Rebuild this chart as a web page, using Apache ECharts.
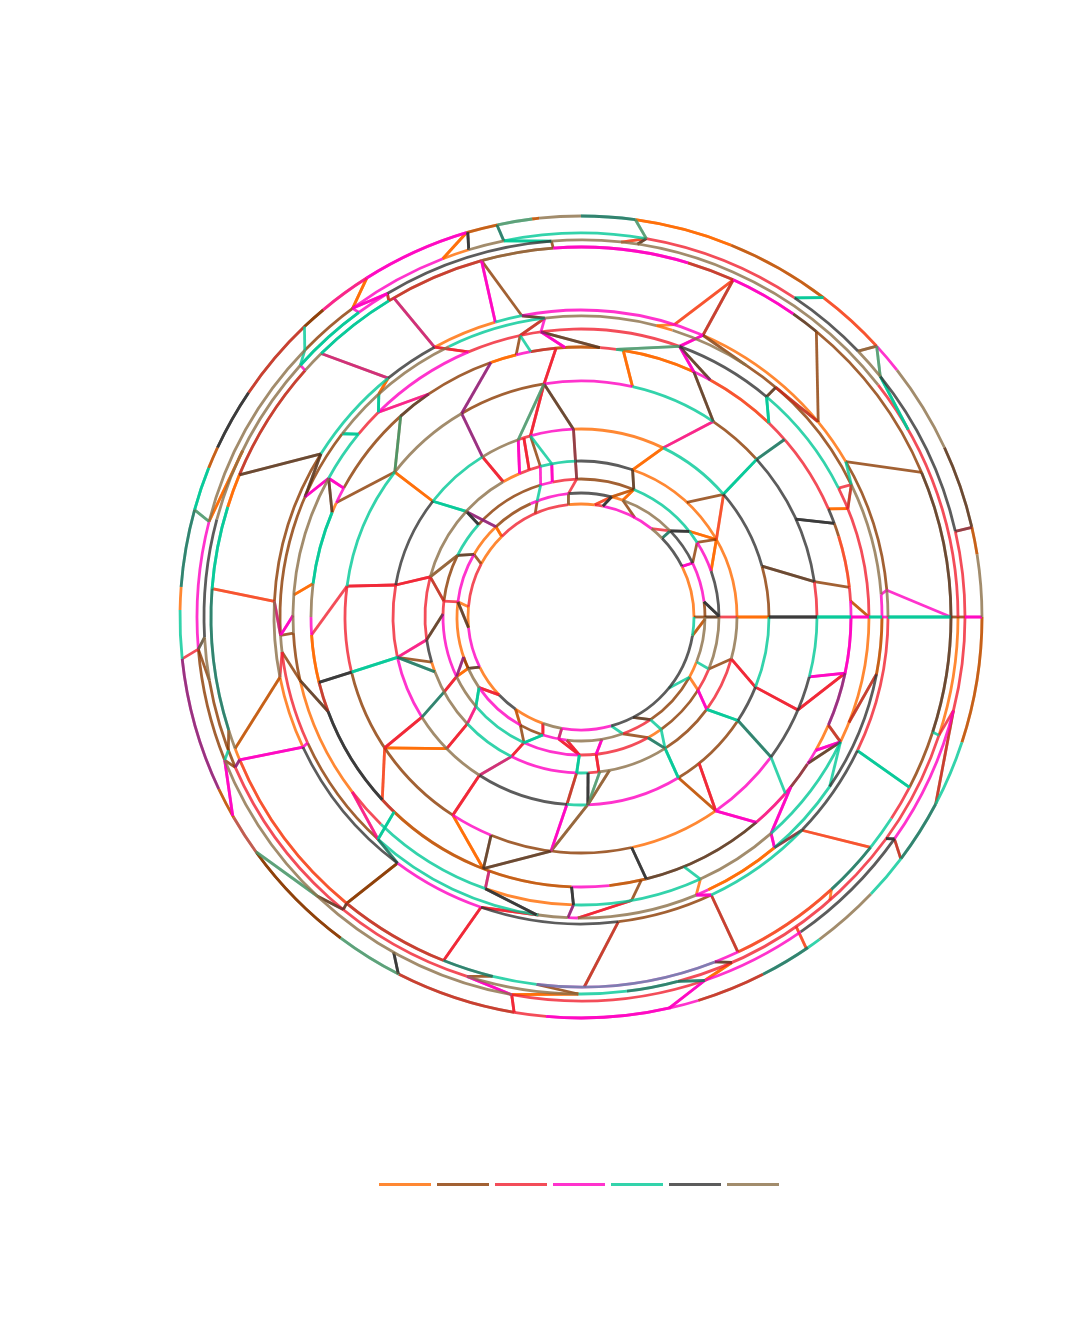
<!DOCTYPE html>
<html><head><meta charset="utf-8">
<script src="https://cdn.jsdelivr.net/npm/echarts@6/dist/echarts.min.js"></script>
<style>html,body{margin:0;background:#fff}#c{width:1090px;height:1344px}</style></head>
<body><div id="c"></div><script>
const seriesNames=['Series 1','Series 2','Series 3','Series 4','Series 5','Series 6','Series 7'];
const seriesCodes=['O','B','R','M','T','D','N'];
const seriesColors=['#ff6a00','#8b3a00','#f02030','#ff00c0','#00c896','#333333','#8b6f47'];
const ringValues=[113,124,138,156,188,236,270,288,301,307,370,377,384,401];
const ringRuns=[
[[0,'O'],[26.6,'D'],[44.2,'N'],[51.4,'M'],[78.8,'R'],[83,'O'],[96.4,'R'],[134.5,'O'],[152,'R'],[174.8,'O'],[185.5,'M'],[206.3,'O'],[223.6,'D'],[234.6,'O'],[250.3,'N'],[260.2,'M'],[285.5,'D'],[350.5,'T']],
[[0,'B'],[7.1,'M'],[25.8,'D'],[44,'N'],[70.3,'O'],[75.7,'D'],[95.8,'M'],[113.9,'B'],[133.3,'O'],[149.7,'M'],[173,'O'],[204.5,'N'],[214.7,'M'],[240.7,'B'],[252.1,'M'],[263.4,'N'],[289.7,'R'],[304.1,'B'],[331,'O'],[338.8,'N']],
[[0,'D'],[19.5,'M'],[32.7,'T'],[67.5,'B'],[91.8,'R'],[102,'M'],[107,'B'],[137.9,'T'],[153.5,'B'],[173.4,'R'],[178.8,'M'],[205.6,'N'],[220.4,'T'],[245.6,'M'],[269.3,'R'],[299,'O'],[305.5,'B'],[328,'R'],[337.9,'N']],
[[0,'O'],[70.7,'D'],[91.8,'T'],[105.1,'R'],[113.2,'O'],[119.9,'N'],[165.1,'R'],[188.4,'D'],[196.9,'O'],[200.6,'N'],[223.2,'T'],[243.5,'M'],[268.4,'T'],[272.6,'R'],[276.6,'N'],[302.6,'B'],[323.7,'R'],[344.4,'N']],
[[0,'B'],[15.7,'D'],[40.8,'T'],[64.1,'O'],[92.3,'M'],[105.6,'R'],[109.5,'N'],[121.6,'T'],[142,'D'],[170.2,'R'],[192.4,'M'],[212.2,'N'],[237.3,'D'],[265.7,'T'],[272,'M'],[301.2,'B'],[326.6,'D'],[338.1,'T']],
[[0,'R'],[8.6,'D'],[41.9,'B'],[55.9,'T'],[77.4,'M'],[99,'B'],[120.4,'N'],[142.1,'T'],[172.5,'R'],[193.5,'B'],[237.1,'M'],[247.6,'B'],[282.4,'O'],[304.8,'M'],[323.6,'D'],[345.3,'T']],
[[0,'M'],[3.4,'R'],[6.3,'OR'],[17.4,'B'],[20.3,'D'],[23.6,'R'],[45.9,'OR'],[61.4,'M'],[65.3,'OO'],[81,'T'],[82.5,'R'],[85.9,'BO'],[95.3,'BR'],[100.7,'M'],[103.9,'OO'],[109.5,'B'],[124.3,'DB'],[132,'B'],[151.5,'M'],[155,'O'],[157.2,'TT'],[172.9,'N'],[180,'M'],[183.8,'OO'],[194,'BR'],[200.5,'DD'],[222.6,'BR'],[226.2,'OB'],[268,'M'],[276,'BO'],[284,'BD'],[310.5,'MR'],[321,'RD'],[327,'M'],[330.4,'O'],[336.4,'MD'],[348,'MM']],
[[0,'R'],[26.6,'T'],[49.9,'D'],[70,'R'],[113,'M'],[134.7,'R'],[140.6,'T'],[151.2,'N'],[183.2,'B'],[192.7,'O'],[217.4,'R'],[226,'T'],[250.6,'O'],[268.5,'T'],[294.5,'N'],[311.3,'T'],[334.3,'O']],
[[0,'M'],[4.3,'N'],[26,'B'],[56.7,'N'],[72.3,'O'],[75.5,'N'],[96.9,'T'],[116,'N'],[142.5,'B'],[183.5,'N'],[186.7,'R'],[204.7,'B'],[227.6,'T'],[261.9,'N'],[267.5,'M'],[269.4,'N'],[292.5,'M'],[295,'OO'],[310,'T'],[325.7,'D'],[349,'OB']],
[[0,'N'],[5,'B'],[30.4,'O'],[66.6,'M'],[101.1,'T'],[106.2,'O'],[118.5,'D'],[128.9,'T'],[147.9,'B'],[177.1,'N'],[191.3,'O'],[205.1,'D'],[233.3,'M'],[251,'D'],[277,'B'],[295.1,'T'],[316,'D'],[334.2,'R']],
[[0,'BD'],[23,'B'],[50.5,'BD'],[55,'MM'],[65.7,'BR'],[73.2,'MM'],[94.3,'BN'],[105.6,'BR'],[121.3,'TT'],[134.6,'N'],[138.2,'BR'],[157.4,'OO'],[162.7,'TT'],[175.6,'DT'],[197.8,'N'],[200.8,'O'],[202.7,'OR'],[230.7,'BR'],[248.2,'TD'],[256.2,'T'],[263.1,'MT'],[291.2,'M'],[295.1,'OR'],[312.6,'TD'],[321.5,'T'],[327,'R'],[332.6,'B'],[341.9,'BD']],
[[0,'R'],[38,'N'],[94.5,'D'],[120.9,'M'],[126.1,'TT'],[138.1,'N'],[165,'D'],[183.1,'N'],[189.7,'B'],[203.5,'R'],[252.4,'N'],[269.6,'T'],[277,'TD'],[284.9,'R'],[341.7,'O']],
[[0,'R'],[12.9,'D'],[38.8,'N'],[43.8,'D'],[56.2,'R'],[80.2,'T'],[101.6,'N'],[107,'O'],[111.1,'M'],[126,'B'],[136,'N'],[165.6,'M'],[184.8,'B'],[201.9,'N'],[259.6,'R'],[288.8,'M'],[304.9,'D'],[324.7,'M'],[345.9,'R']],
[[0,'N'],[9,'BO'],[13,'DB'],[25,'N'],[38,'M'],[42.5,'OR'],[52.8,'BO'],[68,'OO'],[82.2,'TD'],[90,'N'],[96,'BO'],[97,'TN'],[102,'BO'],[106.6,'MM'],[122.3,'MR'],[130,'BB'],[133.6,'BR'],[146,'DD'],[155,'BO'],[158.2,'TT'],[164.5,'TD'],[175.7,'O'],[179,'T'],[186,'MD'],[205.4,'BO'],[210,'NR'],[216,'BB'],[233.2,'NT'],[243,'BR'],[260.4,'R'],[265,'MM'],[283,'M'],[287,'BR'],[297,'DT'],[304.5,'T'],[306.5,'N'],[316.3,'T'],[323,'DT'],[332.2,'T'],[341.8,'OB']]
];
const ringLinks=[
['B',0,0,1,0],['BD',1,0,2,0],['R',2,0,3,0],['OO',3,0,4,0],['DD',4,0,5,0],['TT',5,0,6,0],['MM',6,0,7,0],['TT',7,0,8,0],['M',8,0,9,0],['TT',9,0,10,0],['B',10,0,11,0],['B',11,0,12,0],['MM',12,0,13,0],
['M',10,0,9,5],['M',9,5,8,4.3],['BO',6,3.4,7,0],['DB',4,15.7,5,8.6],['B',5,8.6,6,6.3],['DD',5,24.5,6,20.3],['OO',6,23.6,7,22.1],['BR',7,22.1,8,26.1],['R',7,26.6,8,26.1],['T',9,30.4,8,26.1],['B',9,30.4,10,23],
['DB',7,49.9,8,49.7],['RB',8,49.7,9,39.6],['B',10,50.5,9,39.4],['TT',7,49.9,6,45.9],['TT',4,40.8,5,41.9],['TD',5,41.9,6,41.1],['B',3,47.3,4,40.7],['OR',4,40.7,3,29.8],['OO',3,29.8,2,19.5],['OO',3,70.7,4,64.1],['MR',4,64.1,5,55.9],
['DB',3,70.7,2,67.5],['OO',2,67.5,1,70.3],['BO',2,67.5,1,75.7],['OR',1,75.7,0,83],['DD',1,75.7,0,78.8],['B',1,70.3,0,61.6],['R',0,51.4,1,44],['DD',1,44,2,38.4],['OO',2,38.4,3,29.8],['TD',1,44,0,44.2],['B',2,32.7,3,29.8],['B',2,32.7,1,25.8],['MM',1,25.8,0,26.6],['DD',1,7.1,2,0.4],
['OR',11,83.9,12,80.2],['TN',12,80.2,13,82.2],['DB',11,81.4,12,80.2],['TT',12,56.2,13,52.8],['BN',12,43.8,13,42.5],['NT',13,42.5,12,38.8],['TT',12,38.8,11,29.8],['DR',12,12.9,13,12.9],
['OR',10,65.7,9,72.3],['O',9,72.3,8,75.5],['BR',10,65.7,9,66.6],['MM',9,66.6,7,70],['DO',9,66.6,8,56.7],['MM',7,70,6,65.3],['DB',6,65.3,5,55.9],['BD',7,70,6,61.4],['NT',6,82.5,7,70],['OO',6,81,5,77.4],['DB',7,98,6,86],
['TD',12,101.6,13,102.1],['DD',13,106.4,12,107],['OO',13,106.6,12,111.1],['B',11,94.5,10,94.3],['TT',12,101.6,11,94.5],['B',10,105.6,9,101.1],['DB',9,101.1,8,96.9],['MM',10,105.6,9,106.2],['M',8,96.9,7,98],['BR',8,96.9,7,102.2],['MM',7,98,6,93.4],['B',7,102.2,6,103.9],['T',7,102.2,6,100.7],
['RR',6,95.3,5,99],['BD',5,99,4,92.3],['TN',5,99,4,109.5],['RR',5,99,4,105.6],['RD',4,92.3,2,91.8],['R',2,91.8,1,95.8],['BN',1,95.8,0,96.4],['MM',4,109.5,3,113.2],['RR',4,107.7,3,109.4],['B',4,105.6,3,105.1],['M',3,105.1,2,107],['T',2,107,1,110.7],['B',1,110.7,0,113.9],['T',4,105.6,3,100.8],['MM',3,100.8,2,102],
['RR',3,119.9,4,121.6],['MD',4,121.6,5,120.4],['MD',5,120.4,6,109.5],['MR',6,124.3,7,134.7],['TT',7,134.7,8,132.2],['OO',8,132.2,9,128.9],['MB',9,128.9,10,134.6],['TB',6,131.9,5,142.1],['B',5,142.1,6,154.9],['OO',5,142.1,4,142],['TT',4,142,3,137.4],['DD',3,137.4,2,137.9],['DM',3,137.4,1,133.3],['OO',1,133.3,0,134.5],
['DB',2,153.5,1,149.7],['B',1,149.7,0,152],['BN',2,153.5,3,165.1],['BR',3,165.1,2,173.4],['R',2,173.4,1,173],['O',1,173,0,174.8],['BD',1,173,0,185.5],['RR',3,165.1,4,170.2],['RR',4,170.2,5,172.5],['R',5,172.5,6,183.8],
['OR',10,175.6,9,177.1],['OO',7,175.6,6,172.9],['MB',9,177.1,8,183.5],['MM',8,183.5,7,179.7],['B',8,183.5,7,183.2],['BD',10,157.4,9,147.9],['BD',9,147.9,8,156.5],['MM',8,156.5,7,151.2],['MM',7,151.2,6,151.5],['BD',7,151.2,6,157.2],['TT',8,142.5,7,140.6],
['BM',9,118.5,10,120.4],['RR',9,118.5,7,113],['RB',10,121.3,11,120.9],['MM',12,126.5,11,120.9],['M',11,126.1,12,126.5],['OO',12,126.5,13,122.3],['T',13,133.6,12,136],['T',12,136,11,138.1],['M',11,138.1,10,138.2],['NT',12,165.6,13,164.5],['OO',11,153.8,12,165.6],
['R',13,186,12,184.8],['ND',12,184.8,11,183.1],['B',12,184.8,11,189.7],['MM',13,209.7,12,201.9],['T',12,201.9,11,200.7],['B',11,200.7,10,197.8],['B',12,201.9,11,203.5],['MD',11,203.5,10,202.7],['MM',10,202.7,9,205.1],['M',9,205.1,8,204.7],['OB',10,200.8,9,191.3],['R',9,191.3,8,186.7],['B',8,186.7,7,192.7],['BD',7,192.7,6,200.5],['DD',6,194,5,193.5],['TT',5,193.5,4,192.4],['MR',4,192.4,3,188.4],['DB',3,188.4,2,178.8],['B',4,192.4,3,196.8],['TD',4,192.4,3,200.6],
['RR',5,213.7,4,212.2],['DT',4,212.2,3,208.7],['RR',3,208.7,2,205.6],['OO',2,205.6,1,204.5],['MD',2,205.6,1,198.8],['B',1,198.8,1,204.5],['DB',1,204.5,0,206.3],['OO',5,213.7,4,224.4],['RR',4,224.4,3,223.2],['MR',3,223.2,2,220.4],['TT',2,220.4,1,214.7],['RR',1,214.7,0,223.6],
['OR',5,213.7,6,222.6],['TT',6,226.2,8,227.6],['MR',7,217.4,8,227.6],['TD',8,227.6,9,233.3],['BB',9,233.3,10,230.7],['BD',10,230.7,11,230.9],['BD',11,230.9,12,226.6],['NT',13,215.8,12,226.6],['DD',12,240.8,13,242.9],['RR',10,248.2,9,251],['RR',9,251,8,261.9],['DD',7,250.6,8,261.5],['BM',7,250.6,6,250.1],['OO',6,248.8,5,237.1],['RR',5,237.1,4,237.3],['BM',4,237.3,3,243.5],['RR',3,243.5,2,245.6],['TT',2,245.6,1,252.1],['B',2,245.6,1,240.7],['OB',1,240.7,0,234.6],['RR',1,252.1,0,250.3],
['BM',1,259.6,0,260.2],['RR',1,259.6,2,269.3],['RR',1,263.4,2,269.3],['TT',2,269.3,3,268.4],['BR',3,268.4,4,265.7],['MM',4,265.7,5,262.7],['NB',5,262.7,4,272],['BD',5,247.6,6,248.8],['BD',6,248.8,5,262.7],['DD',6,268,7,268.5],['MD',7,268.5,8,267.5],['RR',12,259.6,13,260.4],['MM',11,252.4,12,259.6],['B',11,252.4,10,256.2],['B',11,269.6,10,263.1],['OO',12,259.6,11,269.6],
['DD',3,272.6,4,272.1],['NT',3,276.9,4,272.1],['NB',3,280.5,4,272.1],['MM',1,279.7,2,276.3],['RR',2,276.3,3,276.6],['T',0,285.5,1,289.7],['B',1,289.7,2,299],['TD',2,299,3,302.6],['BD',0,297.4,1,304.1],['T',1,304.1,2,305.5],['T',2,305.5,3,302.6],['TT',3,302.6,4,301.2],['BO',4,301.2,5,304.8],['RR',4,308.9,5,304.8],['MM',5,304.8,6,310.5],['T',5,323.6,6,319.2],['TD',4,326.6,5,323.6],['TT',3,323.7,4,326.6],['MM',3,323.7,2,328],['O',2,328,1,331],['T',1,331,0,320.9],['T',1,338.8,2,337.9],['B',2,337.9,3,344.4],['RR',3,344.4,4,338.1],['RR',4,338.1,5,336.8],['RR',5,336.8,6,348],['MM',5,345.3,6,348],['BO',0,350.5,1,359],
['DD',5,282.4,6,284],['B',6,282.9,7,280.1],['RR',8,269.4,7,280.1],['T',6,292.4,7,294.5],['O',7,294.5,8,292.5],['MM',8,292.5,9,295.1],['RB',9,295.1,10,295.1],['RB',9,277,10,270.5],['MM',7,311.3,8,310],['RD',8,310,9,316],['OR',9,316,10,321.5],['MM',7,311.3,6,321],['BR',6,336.4,7,334.3],['MM',7,334.3,6,330.4],['DB',6,327.2,7,334.3],['T',7,334.3,8,325.7],['RB',7,338.5,8,349.1],['TT',9,334.2,10,332.6],['T',10,341.9,11,341.7],['R',11,341.7,12,345.9],['RB',12,345.9,13,332.2],['DD',11,324,12,324.7],['RB',12,324.7,13,322.9],['O',10,312.6,11,311.3],['OR',11,304.8,13,304.2],['DB',10,291.2,11,293.6],['TD',11,284.9,12,288.8],['MM',13,282.7,12,288.8],['OO',12,288.8,11,293.6]
];

// rows per series: [radiusA, angleA, radiusB, angleB, overlaid]
// where two different series share a run, the one drawn later is laid over the other more thinly
const rows=seriesCodes.map(()=>[]);
const put=(codes,a,b,c,d)=>{
  const idx=[...codes].map(ch=>seriesCodes.indexOf(ch));
  const top=Math.max(...idx),low=Math.min(...idx);
  idx.forEach(k=>rows[k].push([a,b,c,d,(top!==low&&k===top)?1:0]));
};
ringRuns.forEach((runs,ring)=>runs.forEach((run,i)=>{
  const end=i+1<runs.length?runs[i+1][0]:360;
  put(run[1],ringValues[ring],run[0],ringValues[ring],end);
}));
ringLinks.forEach(l=>put(l[0],ringValues[l[1]],l[2],ringValues[l[3]],l[4]));

function renderItem(params,api){
  const ra=api.value(0),aa=api.value(1),rb=api.value(2),ab=api.value(3);
  const p=api.coord([ra,aa]),q=api.coord([rb,ab]);
  const style={fill:null,stroke:api.visual('color'),lineWidth:2.8,opacity:api.value(4)?0.5:0.8,lineCap:'butt'};
  if(ra===rb){
    const cs=params.coordSys;
    return {type:'arc',shape:{cx:cs.cx,cy:cs.cy,r:Math.hypot(p[0]-cs.cx,p[1]-cs.cy),
      startAngle:Math.atan2(p[1]-cs.cy,p[0]-cs.cx),endAngle:Math.atan2(q[1]-cs.cy,q[0]-cs.cx),clockwise:false},style};
  }
  return {type:'line',shape:{x1:p[0],y1:p[1],x2:q[0],y2:q[1]},style};
}
const chart=echarts.init(document.getElementById('c'),null,{renderer:'canvas'});
chart.setOption({
  animation:false,backgroundColor:'#fff',
  polar:{center:[581,617],radius:401},
  angleAxis:{type:'value',min:0,max:360,startAngle:0,clockwise:false,show:false},
  radiusAxis:{type:'value',min:0,max:401,show:false},
  legend:{show:true,left:374,top:1178,icon:'rect',itemWidth:52,itemHeight:3,itemGap:6,formatter:()=>'',data:seriesNames,
    itemStyle:{opacity:0.8},selectedMode:false},
  series:seriesNames.map((name,i)=>({name,type:'custom',coordinateSystem:'polar',silent:true,
    itemStyle:{color:seriesColors[i],opacity:0.8},
    encode:{radius:[0,2],angle:[1,3]},renderItem,data:rows[i]}))
});
</script></body></html>
